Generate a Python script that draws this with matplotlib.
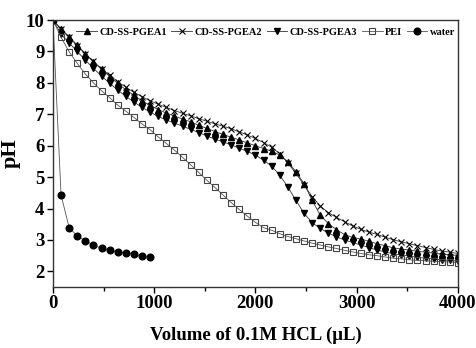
import numpy as np
import matplotlib
matplotlib.use("Agg")
import matplotlib.pyplot as plt
from matplotlib.ticker import MultipleLocator

plt.rcParams['font.family'] = ['Liberation Serif', 'DejaVu Serif']
plt.rcParams['font.weight'] = 'bold'

# volume of 0.1M HCl added (uL), sampled every 80 uL
volume = np.arange(0, 4001, 80)
volume_water = np.arange(0, 961, 80)

ph_pgea1 = [10.0, 9.72, 9.47, 9.20, 8.93, 8.67, 8.43, 8.20, 7.98, 7.78,
            7.60, 7.43, 7.28, 7.15, 7.04, 6.94, 6.85, 6.76, 6.65, 6.55,
            6.45, 6.36, 6.27, 6.18, 6.09, 6.00, 5.91, 5.83, 5.70, 5.49,
            5.17, 4.79, 4.26, 3.79, 3.52, 3.33, 3.17, 3.08, 3.03, 2.96,
            2.88, 2.82, 2.75, 2.71, 2.68, 2.64, 2.61, 2.58, 2.55, 2.53, 2.51]

ph_pgea2 = [10.0, 9.70, 9.45, 9.18, 8.92, 8.68, 8.45, 8.24, 8.04, 7.86,
            7.70, 7.56, 7.43, 7.32, 7.22, 7.12, 7.03, 6.95, 6.86, 6.78,
            6.70, 6.62, 6.54, 6.44, 6.34, 6.23, 6.10, 5.95, 5.75, 5.45,
            5.12, 4.75, 4.38, 4.08, 3.87, 3.72, 3.58, 3.45, 3.34, 3.25,
            3.18, 3.09, 3.01, 2.94, 2.88, 2.82, 2.76, 2.70, 2.65, 2.61, 2.57]

ph_pgea3 = [10.0, 9.55, 9.27, 9.00, 8.72, 8.46, 8.22, 7.99, 7.77, 7.57,
            7.39, 7.22, 7.07, 6.93, 6.82, 6.72, 6.62, 6.52, 6.42, 6.31,
            6.21, 6.12, 6.03, 5.92, 5.82, 5.70, 5.54, 5.35, 5.06, 4.69,
            4.26, 3.85, 3.55, 3.37, 3.22, 3.10, 3.00, 2.92, 2.84, 2.76,
            2.68, 2.62, 2.56, 2.52, 2.49, 2.45, 2.42, 2.40, 2.37, 2.35, 2.33]

ph_pei = [10.0, 9.45, 8.99, 8.62, 8.28, 8.00, 7.75, 7.53, 7.29, 7.10,
          6.90, 6.69, 6.51, 6.28, 6.07, 5.86, 5.63, 5.39, 5.15, 4.90,
          4.67, 4.43, 4.19, 3.97, 3.76, 3.56, 3.39, 3.31, 3.20, 3.11,
          3.04, 2.97, 2.90, 2.84, 2.78, 2.73, 2.67, 2.62, 2.57, 2.53,
          2.50, 2.46, 2.42, 2.40, 2.37, 2.35, 2.34, 2.32, 2.31, 2.30, 2.28]

ph_water = [10.0, 4.43, 3.39, 3.13, 2.97, 2.84, 2.73, 2.67, 2.62, 2.58,
            2.54, 2.49, 2.45]

fig = plt.figure(figsize=(4.77, 3.48), dpi=100)
ax = fig.add_axes([0.111, 0.175, 0.849, 0.7675])

lw = 0.6
ax.plot(volume, ph_pgea1, color='#333333', lw=lw, marker='^', ms=4.5,
        mfc='black', mec='black', label='CD-SS-PGEA1')
ax.plot(volume, ph_pgea2, color='#333333', lw=lw, marker='x', ms=4.5,
        mec='black', mew=0.8, label='CD-SS-PGEA2')
ax.plot(volume, ph_pgea3, color='#333333', lw=lw, marker='v', ms=4.5,
        mfc='black', mec='black', label='CD-SS-PGEA3')
ax.plot(volume, ph_pei, color='#555555', lw=lw, marker='s', ms=4,
        mfc='none', mec='#444444', mew=0.8, label='PEI')
ax.plot(volume_water, ph_water, color='#555555', lw=lw, marker='o', ms=4.8,
        mfc='black', mec='black', label='water')

ax.set_xlim(0, 4000)
ax.set_ylim(1.5, 10)
ax.xaxis.set_major_locator(MultipleLocator(1000))
ax.xaxis.set_minor_locator(MultipleLocator(500))
ax.yaxis.set_major_locator(MultipleLocator(1))
ax.tick_params(axis='both', which='both', direction='out', labelsize=13.5,
               top=False, right=False)
ax.tick_params(which='major', length=4, width=1, pad=2)
ax.tick_params(which='minor', length=3, width=1)
for s in ax.spines.values():
    s.set_linewidth(1.0)
    s.set_color('#333333')

ax.set_xlabel('Volume of 0.1M HCL (\u03bcL)', fontsize=13.5, fontweight='bold',
              labelpad=10)
ax.set_ylabel('pH', fontsize=16, fontweight='bold', labelpad=4)

leg = ax.legend(loc='upper center', ncol=5, frameon=False, fontsize=7.5,
                handlelength=2.0, handletextpad=0.2, columnspacing=0.45,
                bbox_to_anchor=(0.525, 1.0), borderaxespad=0.3)
for t in leg.get_texts():
    t.set_fontweight('bold')

fig.savefig('out.png', dpi=100)
